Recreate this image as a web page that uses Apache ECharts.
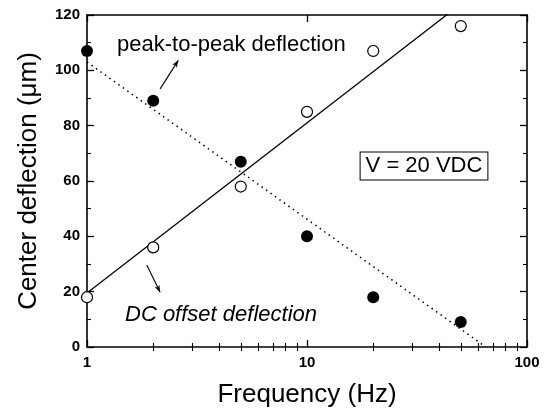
<!DOCTYPE html>
<html>
<head>
<meta charset="utf-8">
<script src="https://cdn.jsdelivr.net/npm/echarts@6/dist/echarts.min.js"></script>
<style>html,body{margin:0;padding:0;background:#fff}#c{width:550px;height:415px}</style>
</head>
<body>
<div id="c"></div>
<script>
// Data
const freq = [1, 2, 5, 10, 20, 50];
const peakToPeak = [107, 89, 67, 40, 18, 9];      // filled circles
const dcOffset = [18, 36, 58, 85, 107, 116];      // open circles
const dcFitX = [1, 100];
const dcFitY = [19.5, 142.5];                       // solid fit line
const ppFitX = [1, 65];
const ppFitY = [103, 0];                            // dotted fit line
const xMinorTicks = [2, 3, 4, 5, 6, 7, 8, 9, 20, 30, 40, 50, 60, 70, 80, 90];
const yTickLabels = [0, 20, 40, 60, 80, 100, 120];

const FONT = '"Liberation Sans", Arial, Helvetica, sans-serif';
const chart = echarts.init(document.getElementById('c'), null, {renderer: 'canvas'});

const zip = (xs, ys) => xs.map((x, i) => [x, ys[i]]);
const minorLog = xMinorTicks.map(v => Math.log10(v));

const majorLog = (pos, withLabel) => ({
  type: 'log', logBase: 10, min: 1, max: 100, position: pos, gridIndex: 0,
  axisLine: {show: true, onZero: false, lineStyle: {color: '#000', width: 1.6}},
  axisTick: {show: true, inside: true, length: 7, lineStyle: {color: '#000', width: 1.3}},
  axisLabel: {show: withLabel, color: '#000', fontFamily: FONT, fontWeight: 'bold', fontSize: 15, margin: 8},
  splitLine: {show: false},
  name: withLabel ? 'Frequency (Hz)' : '',
  nameLocation: 'middle', nameGap: 35,
  nameTextStyle: {color: '#000', fontFamily: FONT, fontSize: 26}
});
const minorAxis = (pos) => ({
  type: 'value', min: 0, max: 2, position: pos, gridIndex: 0,
  axisLine: {show: false},
  axisTick: {show: true, inside: true, length: 4, customValues: minorLog, lineStyle: {color: '#000', width: 1.1}},
  axisLabel: {show: false},
  splitLine: {show: false}
});
const yAx = (pos, withLabel) => ({
  type: 'value', min: 0, max: 120, interval: 20, position: pos, gridIndex: 0,
  axisLine: {show: true, onZero: false, lineStyle: {color: '#000', width: 1.6}},
  axisTick: {show: true, inside: true, length: 7, lineStyle: {color: '#000', width: 1.3}},
  minorTick: {show: true, splitNumber: 2, length: 4, lineStyle: {color: '#000', width: 1.1}},
  axisLabel: {show: withLabel, color: '#000', fontFamily: FONT, fontWeight: 'bold', fontSize: 15, margin: 7,
    customValues: withLabel ? yTickLabels : undefined},
  splitLine: {show: false},
  name: withLabel ? 'Center deflection (\u03bcm)' : '',
  nameLocation: 'middle', nameGap: 45, nameRotate: 90,
  nameTextStyle: {color: '#000', fontFamily: FONT, fontSize: 26}
});

const option = {
  animation: false,
  backgroundColor: '#fff',
  grid: {left: 87, right: 23, top: 15, bottom: 68, containLabel: false},
  xAxis: [majorLog('bottom', true), minorAxis('bottom'), majorLog('top', false), minorAxis('top')],
  yAxis: [yAx('left', true), yAx('right', false)],
  series: [
    {
      type: 'line', xAxisIndex: 0, yAxisIndex: 0, data: zip(dcFitX, dcFitY),
      showSymbol: false, symbol: 'none', clip: true, silent: true,
      lineStyle: {color: '#000', width: 1.3, type: 'solid'}, z: 2
    },
    {
      type: 'line', xAxisIndex: 0, yAxisIndex: 0, data: zip(ppFitX, ppFitY),
      showSymbol: false, symbol: 'none', clip: true, silent: true,
      lineStyle: {color: '#000', width: 1.5, type: [1.5, 4]}, z: 2,
      markLine: {
        silent: true, animation: false,
        label: {show: false},
        lineStyle: {color: '#000', width: 1.1, type: 'solid', opacity: 1},
        symbolSize: [4, 7],
        data: [
          [{coord: [2.15, 93.3], symbol: 'none'}, {coord: [2.6, 103.6], symbol: 'arrow'}],
          [{coord: [1.87, 29.6], symbol: 'none'}, {coord: [2.15, 19.8], symbol: 'arrow'}]
        ]
      }
    },
    {
      type: 'scatter', xAxisIndex: 0, yAxisIndex: 0, data: zip(freq, dcOffset),
      symbol: 'circle', symbolSize: 11, clip: false,
      itemStyle: {color: '#fff', borderColor: '#000', borderWidth: 1.2, opacity: 1}, z: 3
    },
    {
      type: 'scatter', xAxisIndex: 0, yAxisIndex: 0, data: zip(freq, peakToPeak),
      symbol: 'circle', symbolSize: 12, clip: false,
      itemStyle: {color: '#000', borderColor: '#000', borderWidth: 0, opacity: 1}, z: 3
    }
  ],
  graphic: [
    {type: 'text', x: 117, y: 45, style: {text: 'peak-to-peak deflection', font: '22px ' + FONT, fill: '#000', textAlign: 'left', textVerticalAlign: 'middle'}},
    {type: 'text', x: 125, y: 315, style: {text: 'DC offset deflection', font: 'italic 22px ' + FONT, fill: '#000', textAlign: 'left', textVerticalAlign: 'middle'}},
    {type: 'text', x: 424, y: 166, style: {text: 'V = 20 VDC', font: '22px ' + FONT, fill: '#000', textAlign: 'center', textVerticalAlign: 'middle',
      backgroundColor: '#fff', borderColor: '#000', borderWidth: 1, padding: [3, 5, 2, 5]}}
  ]
};
chart.setOption(option);
</script>
</body>
</html>
